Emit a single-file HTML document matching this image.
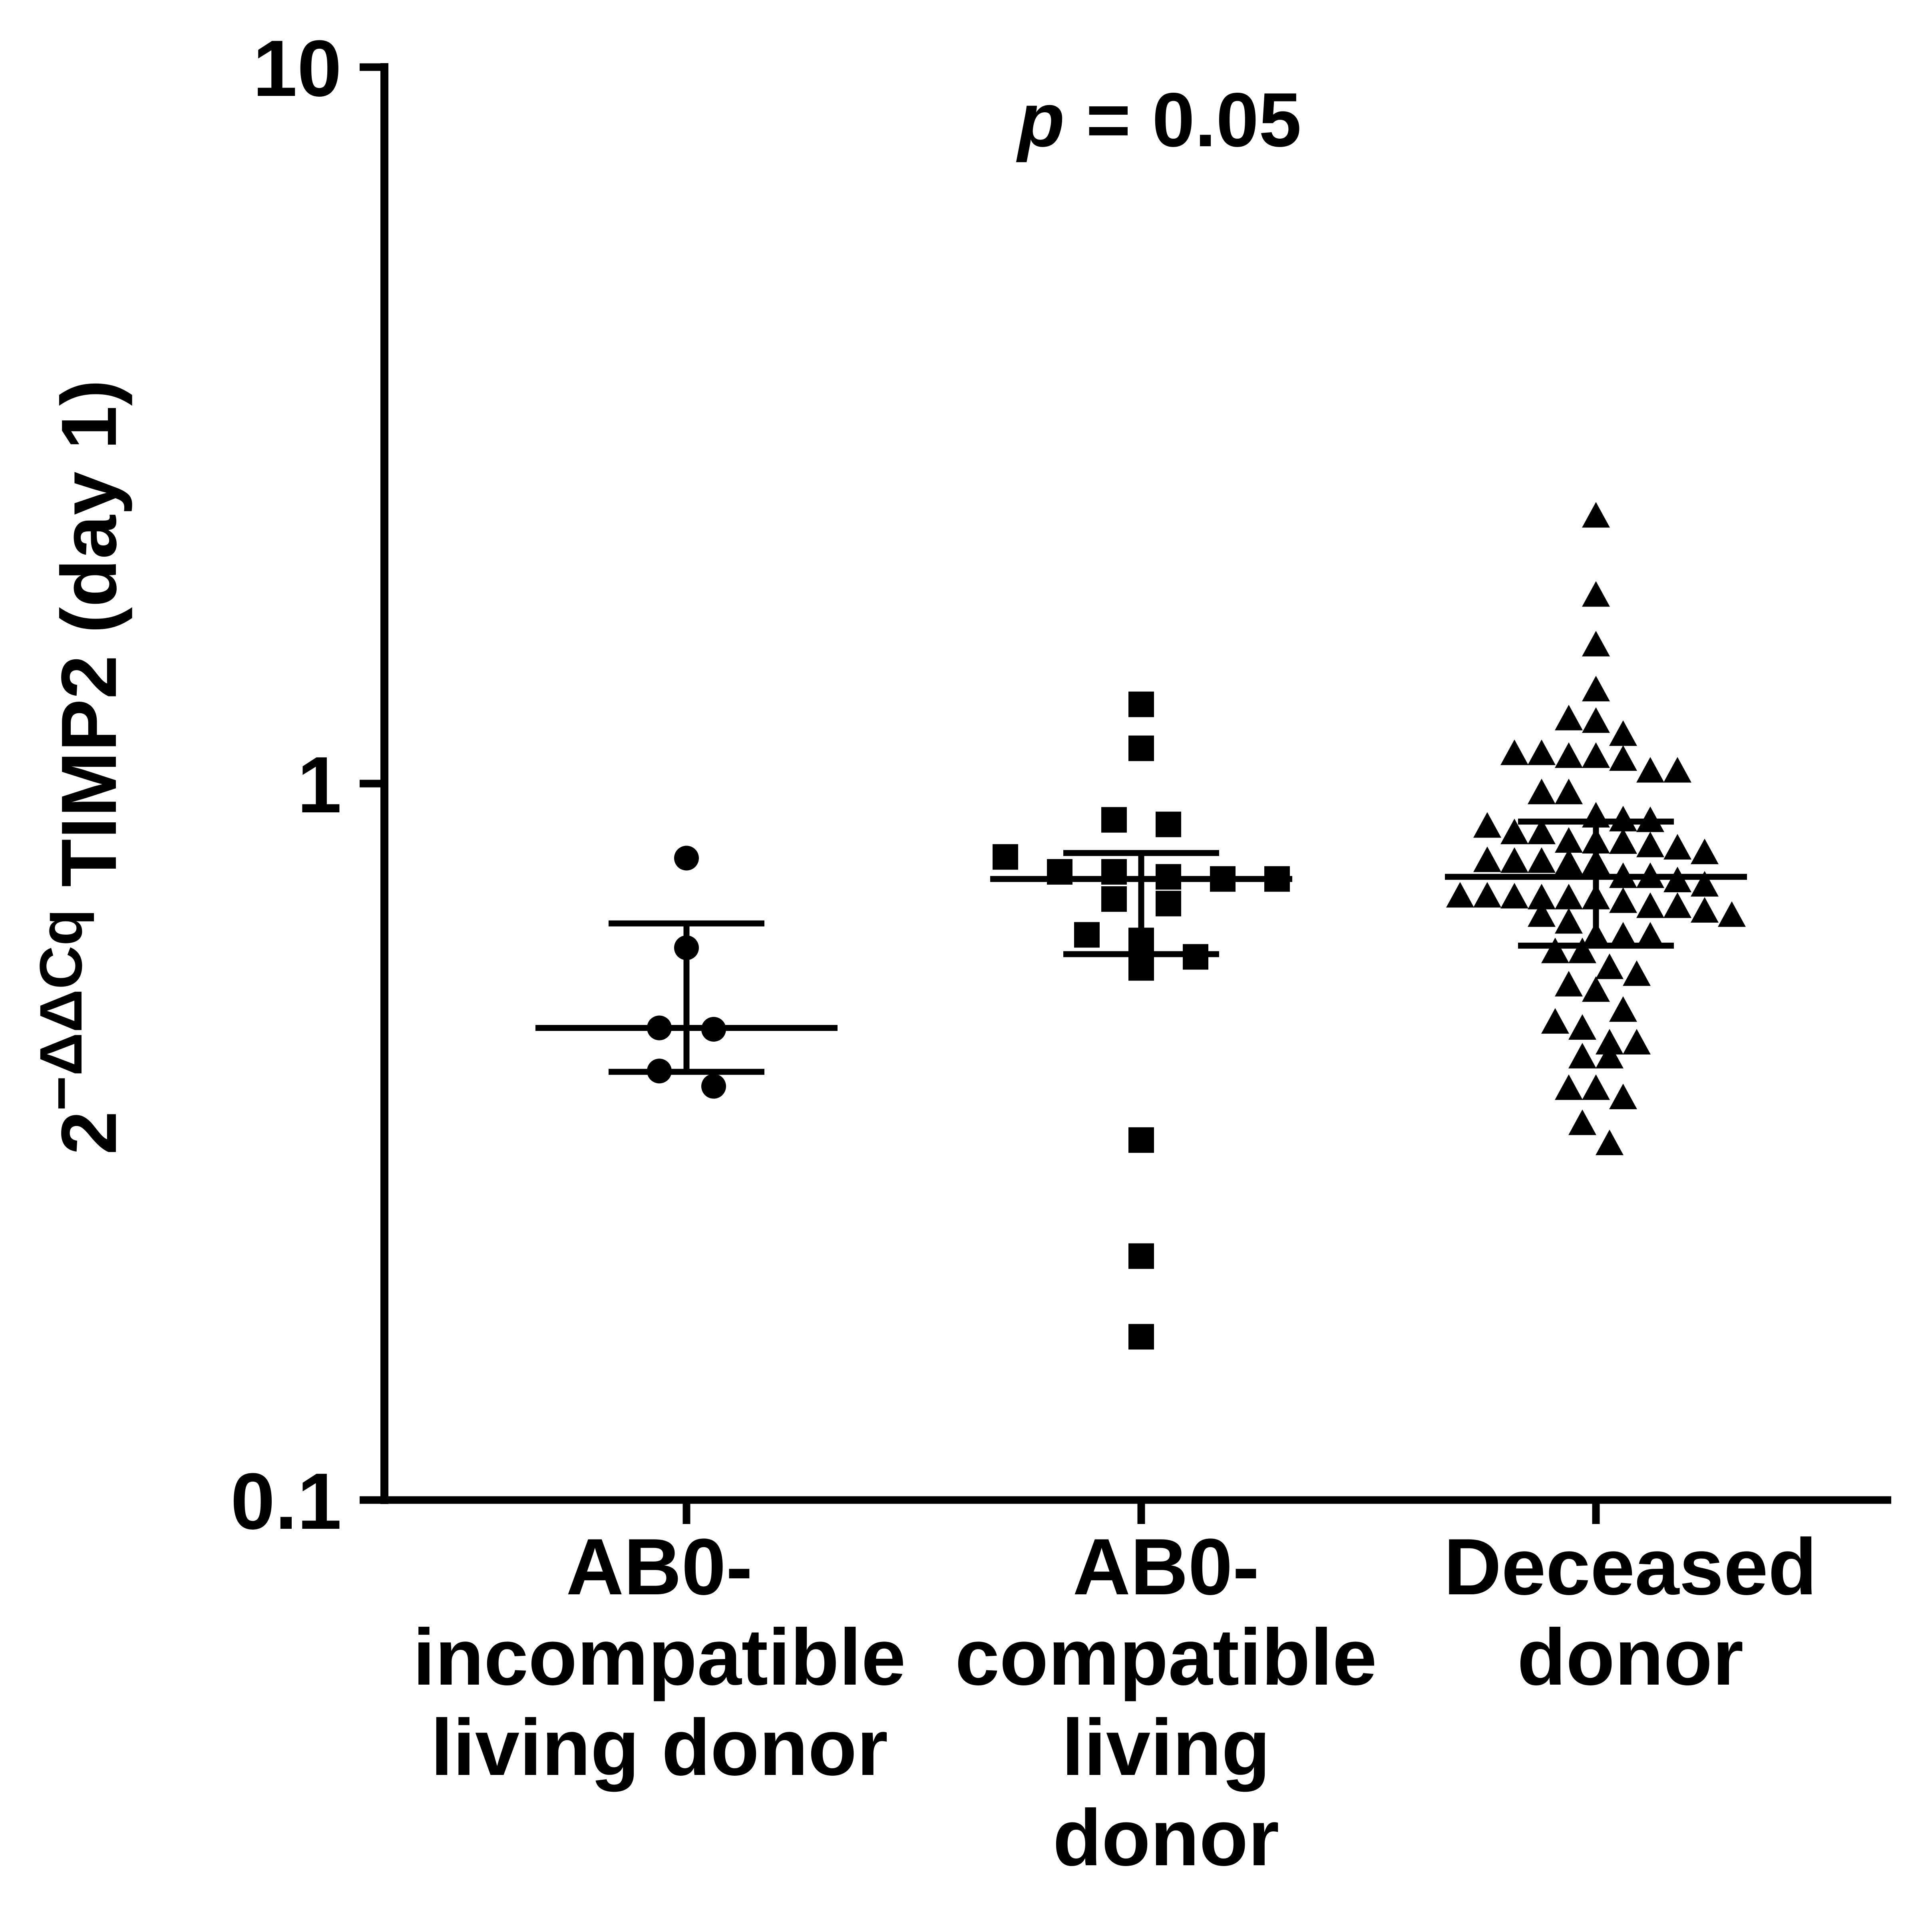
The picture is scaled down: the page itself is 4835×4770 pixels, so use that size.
<!DOCTYPE html>
<html><head><meta charset="utf-8"><style>
html,body{margin:0;padding:0;background:#fff;}
svg{display:block;}
text{font-family:"Liberation Sans",Arial,sans-serif;font-weight:bold;fill:#000;}
</style></head><body>
<svg id="chart" width="4835" height="4770" viewBox="0 0 4835 4770" xmlns="http://www.w3.org/2000/svg">
<rect width="4835" height="4770" fill="#fff"/>
<g id="axes"></g>
<g id="marks"></g>
<text x="2902" y="366" font-size="192" text-anchor="middle"><tspan font-style="italic">p</tspan> = 0.05</text>
<text transform="translate(290,1920) rotate(-90)" text-anchor="middle" font-size="196" textLength="1940" lengthAdjust="spacingAndGlyphs">2<tspan font-size="150" dy="-86">−ΔΔCq</tspan><tspan dy="86"> TIMP2 (day 1)</tspan></text>
</svg>
<script>
const categories = ["AB0-incompatible living donor", "AB0-compatible living donor", "Deceased donor"];
const labelLines = [["AB0-","incompatible","living donor"],["AB0-","compatible","living","donor"],["Deceased","donor"]];
const yTicks = [0.1, 1, 10];
const yTickLabels = ["0.1", "1", "10"];
const group1 = [0.787, 0.590, 0.454, 0.456, 0.397, 0.378];
const group2 = [1.29, 1.12, 0.877, 0.89, 0.741, 0.736, 0.753, 0.79, 0.736, 0.753, 0.68, 0.69, 0.604, 0.615, 0.553, 0.573, 0.318, 0.219, 0.169];
const group3 = [2.36, 1.83, 1.56, 1.35, 1.23, 1.22, 1.17, 1.10, 1.04, 1.09, 1.08, 1.09, 1.10, 1.04, 0.97, 0.97, 0.90, 0.887, 0.853, 0.853, 0.871, 0.889, 0.827, 0.818, 0.80, 0.778, 0.774, 0.828, 0.774, 0.78, 0.778, 0.812, 0.83, 0.741, 0.731, 0.696, 0.692, 0.694, 0.692, 0.684, 0.692, 0.696, 0.721, 0.741, 0.673, 0.654, 0.640, 0.654, 0.663, 0.673, 0.612, 0.612, 0.612, 0.582, 0.582, 0.553, 0.541, 0.523, 0.514, 0.482, 0.455, 0.464, 0.434, 0.434, 0.415, 0.415, 0.375, 0.375, 0.364, 0.335, 0.314];
const medians = [0.456, 0.736, 0.741];
const q1s = [0.396, 0.578, 0.594];
const q3s = [0.638, 0.80, 0.885];

const NS = "http://www.w3.org/2000/svg";
const X0 = 962, X1 = 4733, Y10 = 168, Y01 = 3754;
const catX = [1718, 2856, 3994];
function y(v){ return Y01 - (Math.log10(v) + 1) / 2 * (Y01 - Y10); }
function x(i){ return catX[i]; }
function mk(tag, attrs, parent){ const e=document.createElementNS(NS,tag); for(const k in attrs) e.setAttribute(k,attrs[k]); parent.appendChild(e); return e; }

const axes = document.getElementById('axes');
let l = mk('line',{x1:X0,y1:Y10-10,x2:X0,y2:Y01+10,stroke:'#000','stroke-width':20},axes);


l = mk('line',{x1:X0-10,y1:Y01,x2:X1,y2:Y01,stroke:'#000','stroke-width':19},axes);


yTicks.forEach((t,i)=>{
  const tk = mk('line',{x1:900,y1:y(t),x2:X0,y2:y(t),stroke:'#000','stroke-width':19},axes);
  
  
  const tx = mk('text',{x:855,y:y(t)+72,'font-size':200,'text-anchor':'end'},axes);
  tx.textContent = yTickLabels[i];
  
  
});
const labelCx = [1650, 2918, 4080];
categories.forEach((c,i)=>{
  const tk = mk('line',{x1:x(i),y1:Y01,x2:x(i),y2:Y01+60,stroke:'#000','stroke-width':19},axes);
  
  
  const g = mk('text',{x:labelCx[i],y:3990,'font-size':200,'text-anchor':'middle'},axes);
  
  
  labelLines[i].forEach((ln,j)=>{
    const ts = mk('tspan',{x:labelCx[i],y:3990+j*226},g);
    ts.textContent = ln;
  });
});

const marks = document.getElementById('marks');
function layout(vals, spacing, rowH, maxN){
  const idx = vals.map((v,i)=>i).sort((a,b)=>y(vals[a])-y(vals[b]));
  const res = new Array(vals.length);
  let row=[], start=null;
  function flush(){ const n=row.length; row.forEach((k,j)=>{ res[k]=(j-(n-1)/2)*spacing; }); row=[]; }
  idx.forEach(k=>{ const yy=y(vals[k]); if(start===null || yy-start>rowH || row.length>=maxN){ flush(); start=yy; } row.push(k); });
  flush();
  return res;
}
function drawErr(i){
  const g = mk('g',{},marks);
  
  
  mk('line',{x1:x(i)-378,y1:y(medians[i]),x2:x(i)+378,y2:y(medians[i]),stroke:'#000','stroke-width':15},g);
  mk('line',{x1:x(i)-195,y1:y(q3s[i]),x2:x(i)+195,y2:y(q3s[i]),stroke:'#000','stroke-width':15},g);
  mk('line',{x1:x(i)-195,y1:y(q1s[i]),x2:x(i)+195,y2:y(q1s[i]),stroke:'#000','stroke-width':15},g);
  mk('line',{x1:x(i),y1:y(q3s[i]),x2:x(i),y2:y(q1s[i]),stroke:'#000','stroke-width':15},g);
}
const off1 = layout(group1, 136, 46, 99);
group1.forEach((v,k)=>{
  const c = mk('circle',{cx:x(0)+off1[k],cy:y(v),r:31,fill:'#000'},marks);
  
  
});
drawErr(0);
const off2 = layout(group2, 136, 62, 99);
group2.forEach((v,k)=>{
  const s = mk('rect',{x:x(1)+off2[k]-32,y:y(v)-32,width:64,height:64,fill:'#000'},marks);
  
  
});
drawErr(1);
const off3 = layout(group3, 68, 72, 11);
group3.forEach((v,k)=>{
  const cx = x(2)+off3[k], cy = y(v);
  const p = mk('polygon',{points:`${cx},${cy-36} ${cx+35},${cy+28} ${cx-35},${cy+28}`,fill:'#000'},marks);
  
  
});
drawErr(2);
</script>
</body></html>
